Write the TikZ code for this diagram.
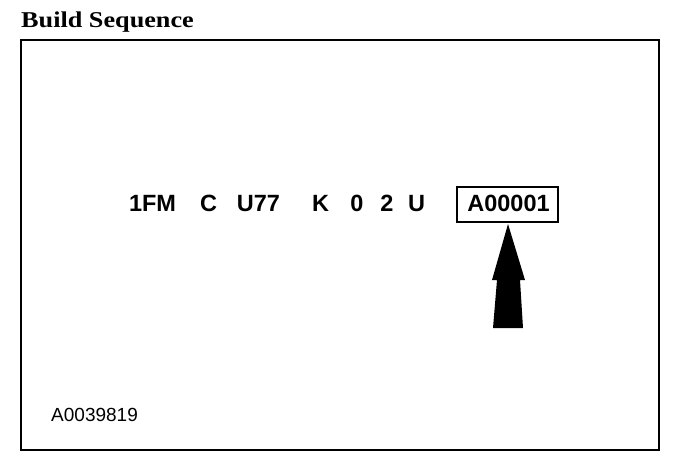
\documentclass[tikz,border=0pt]{standalone}
\usepackage{fontspec}
\newfontfamily\helvfont{Liberation Sans}
\newfontfamily\titlefont{Liberation Serif}
\begin{document}
\begin{tikzpicture}[x=1pt,y=-1pt,
  code/.style={anchor=base,inner sep=0pt,font=\helvfont\bfseries\fontsize{23.5}{28}\selectfont},
  frame/.style={line width=2.6pt},
  boxed/.style={draw,line width=2pt,minimum width=101pt,minimum height=35pt,inner sep=0pt}]
\useasboundingbox (0,0) rectangle (688,464);
\node[anchor=base west,inner sep=0pt,font=\titlefont\bfseries\fontsize{22.6}{26}\selectfont] (title) at (21,27) {\scalebox{1.16}[1]{Build Sequence}};
\draw[frame] (21,40) rectangle (659,450);
\node[code] (p1) at (152.5,211) {1FM};
\node[code] (p2) at (208.5,211) {C};
\node[code] (p3) at (258.5,211) {U77};
\node[code] (p4) at (320.5,211) {K};
\node[code] (p5) at (357,211) {0};
\node[code] (p6) at (387,211) {2};
\node[code] (p7) at (416.5,211) {U};
\node[boxed] (box) at (507.5,204) {};
\node[code] (p8) at (508.5,211) {A00001};
\coordinate (tip) at (508,224);
\fill (tip) -- (525,280) -- (520,280) -- (523,328) -- (493,328) -- (497,280) -- (492,280) -- cycle;
\node[anchor=base west,inner sep=0pt,font=\helvfont\fontsize{19}{22}\selectfont] (ref) at (51,421) {A0039819};
\end{tikzpicture}
\end{document}
